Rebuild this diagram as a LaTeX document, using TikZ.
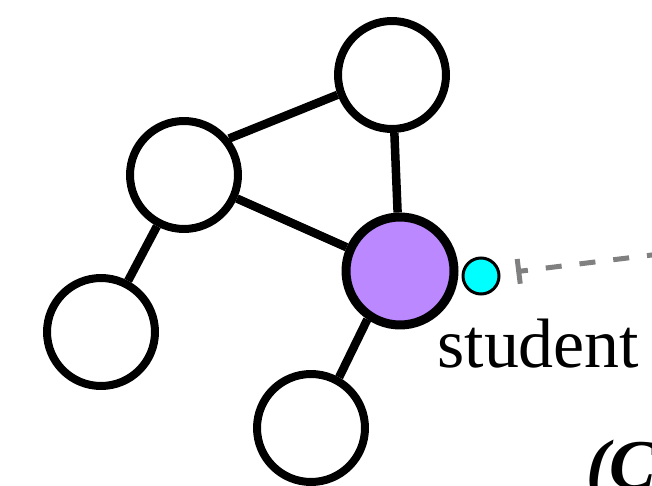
\documentclass[tikz,border=0pt]{standalone}
\usepackage{fontspec}
\setmainfont{Liberation Serif}
\usepackage{xcolor}
\usetikzlibrary{arrows.meta,positioning}
\definecolor{stupurple}{RGB}{187,136,255}
\definecolor{attrcyan}{RGB}{0,255,255}

\begin{document}
\begin{tikzpicture}[x=0.02cm,y=-0.02cm,
    vert/.style={circle,draw,line width=0.16cm,minimum size=2.16cm,inner sep=0pt},
    edge/.style={line width=0.17cm},
    link/.style={draw=gray,line width=0.1cm,dash pattern=on 0.32cm off 0.36cm,
      dash phase=0.16cm,{Bar[width=0.5cm,line width=0.1cm]}-,shorten <=0.32cm}]
        % 1 unit = 1 px of the 652x486 frame, y downwards
        \useasboundingbox (0,0) rectangle (652,486);
        % graph vertices
        \node[vert] (top)   at (392,75)  {};
        \node[vert] (left)  at (184,175) {};
        \node[vert] (leaf1) at (101,332) {};
        \node[vert] (leaf2) at (311,428) {};
        \node[vert,fill=stupurple,line width=0.18cm] (stu) at (400,271) {};
        % attribute dot next to the student vertex
        \node[circle,draw,fill=attrcyan,line width=0.06cm,minimum size=0.72cm,inner sep=0pt] (attr) at (481,276) {};
        \coordinate (far) at (660,254);
        % edges
        \draw[edge] (left.39) -- (top.200);
        \draw[edge] (top) -- (stu);
        \draw[edge] (left) -- (stu);
        \draw[edge] (left) -- (leaf1);
        \draw[edge] (stu.-124) -- (leaf2.61);
        \draw[link] (attr) -- (far);
        % labels
        \node[anchor=base west,inner sep=0pt,font=\fontsize{39.8}{48}\selectfont] (stulbl) at (437,367) {student};
        \node[anchor=base west,inner sep=0pt,font=\fontsize{39.8}{48}\selectfont\bfseries\itshape] (panel) at (586,488) {(C};
      \end{tikzpicture}
\end{document}
